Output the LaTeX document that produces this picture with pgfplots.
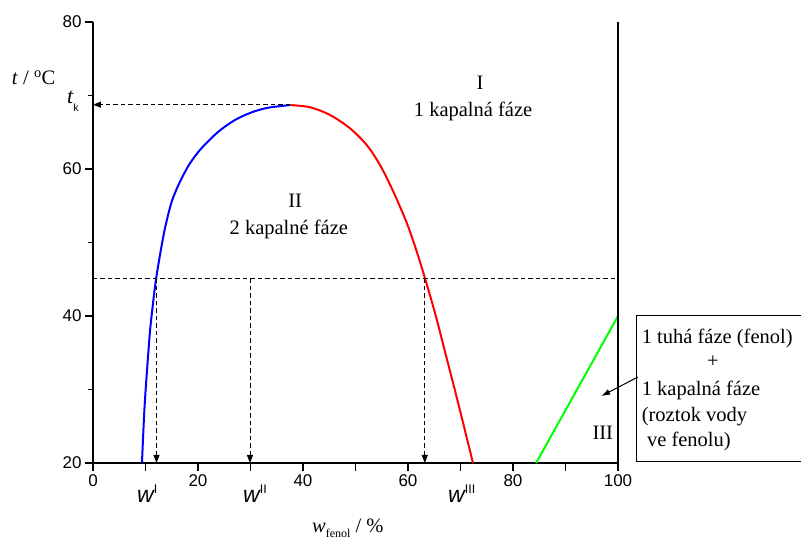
\documentclass[border=0pt]{standalone}
\usepackage{pgfplots}
\pgfplotsset{compat=1.18}
\usetikzlibrary{arrows.meta}
\usepackage{fontspec}
\setmainfont{Liberation Serif}
\newfontfamily\arial{Liberation Sans}

\newcommand\lbl{\fontsize{20.5}{24}\selectfont}
\newcommand\wlab[1]{{\arial\itshape\fontsize{23}{26}\selectfont w}\raisebox{9pt}{\arial\fontsize{12.5}{14}\selectfont #1}}

\begin{document}
\begin{tikzpicture}
\begin{axis}[
  scale only axis, width=525pt, height=441pt,
  xmin=0, xmax=100, ymin=20, ymax=80,
  axis x line=bottom, axis y line=left,
  axis line style={-, line width=1.2pt},
  xtick={0,10,...,100}, xticklabels={0,,20,,40,,60,,80,,100},
  ytick={20,40,60,80}, minor ytick={30,50,70},
  tick align=outside, major tick length=8pt, minor tick length=5pt,
  every tick/.style={line width=1.2pt, black},
  tick label style={font=\arial\fontsize{17}{20}\selectfont},
  /pgf/number format/assume math mode=true,
  clip=false,
]
% phase boundary
\addplot[blue, line width=2pt, smooth] coordinates {
  (9.33,20) (9.85,28) (10.75,37) (11.18,40.14) (11.94,44.67)
  (12.76,48.30) (13.71,51.93) (14.99,55.55) (16.57,58.27) (18.48,60.78)
  (20.7,62.85) (23.87,65.07) (27.05,66.67) (30.23,67.71) (33.39,68.34)
  (37.6,68.7)
};
\addplot[red, line width=2pt, smooth] coordinates {
  (37.6,68.7) (41.33,68.40) (45.14,67.35) (48.95,65.54) (52.13,63.27)
  (54.67,60.54) (57.21,56.91) (59.8,52.6) (61.6,48.9) (63.24,45.13)
  (65.3,40) (67.1,35) (68.9,30) (70.65,25) (72.38,20)
};
\addplot[green, line width=2pt] coordinates {(84.4,20) (100,40)};
\addplot[black, line width=1.2pt] coordinates {(100,20) (100,80)};

% tie line and arrows
\addplot[black, line width=0.9pt, dash pattern=on 4.5pt off 3pt] coordinates {(0,45.13) (100,45.13)};
\addplot[black, line width=0.9pt, dash pattern=on 4.5pt off 3pt,
  -{Triangle[length=8pt,width=6pt]}] coordinates {(37.6,68.75) (0,68.75)};
\addplot[black, line width=0.9pt, dash pattern=on 4.5pt off 3pt,
  -{Triangle[length=8pt,width=6pt]}] coordinates {(12.1,45.13) (12.1,20)};
\addplot[black, line width=0.9pt, dash pattern=on 4.5pt off 3pt,
  -{Triangle[length=8pt,width=6pt]}] coordinates {(29.9,45.13) (29.9,20)};
\addplot[black, line width=0.9pt, dash pattern=on 4.5pt off 3pt,
  -{Triangle[length=8pt,width=6pt]}] coordinates {(63.2,45.13) (63.2,20)};

% labels
\node[anchor=base, inner sep=0pt, font=\lbl] at (axis cs:-11.3,71.43) {\textit{t} / \textsuperscript{o}C};
\node[anchor=base west, inner sep=0pt] at (axis cs:-4.95,68.94)
  {{\itshape\fontsize{22}{24}\selectfont t}\raisebox{-8.4pt}{\arial\fontsize{10.5}{12}\selectfont k}};
\node[anchor=base west, inner sep=0pt, font=\lbl] at (axis cs:41.71,10.48)
  {\textit{w}\raisebox{-5pt}{\fontsize{12}{14}\selectfont fenol} / \%};
\node[anchor=base west, inner sep=0pt] at (axis cs:8.38,14.56) {\wlab{I}};
\node[anchor=base west, inner sep=0pt] at (axis cs:28.57,14.56) {\wlab{II}};
\node[anchor=base west, inner sep=0pt] at (axis cs:67.62,14.56) {\wlab{III}};

\node[anchor=base, inner sep=0pt, font=\lbl] at (axis cs:73.7,70.75) {I};
\node[anchor=base, inner sep=0pt, font=\lbl] at (axis cs:72.4,67.2) {1 kapalná fáze};
\node[anchor=base, inner sep=0pt, font=\lbl] at (axis cs:38.5,54.79) {II};
\node[anchor=base, inner sep=0pt, font=\lbl] at (axis cs:37.3,51.02) {2 kapalné fáze};
\node[anchor=base, inner sep=0pt, font=\lbl] at (axis cs:97.1,23.13) {III};

% annotation box
\draw[line width=1pt] (axis cs:103.6,20.14) rectangle (axis cs:140,40.0);
\node[anchor=base west, inner sep=0pt, font=\lbl] at (axis cs:104.5,36.29) {1 tuhá fáze (fenol)};
\node[anchor=center, inner sep=0pt, font=\lbl] at (axis cs:118.1,33.78) {+};
\node[anchor=base west, inner sep=0pt, font=\lbl] at (axis cs:104.5,29.25) {1 kapalná fáze};
\node[anchor=base west, inner sep=0pt, font=\lbl] at (axis cs:104.5,25.62) {(roztok vody};
\node[anchor=base west, inner sep=0pt, font=\lbl] at (axis cs:105.5,22.22) {ve fenolu)};
\draw[line width=1pt, -{Latex[length=9pt,width=6pt]}] (axis cs:103.8,31.7) -- (axis cs:96.8,29.1);

\coordinate (bbsw) at (axis cs:-17.714,9.524);
\coordinate (bbne) at (axis cs:134.857,82.993);
\end{axis}
\pgfresetboundingbox
\path (bbsw) rectangle (bbne);
\end{tikzpicture}
\end{document}
